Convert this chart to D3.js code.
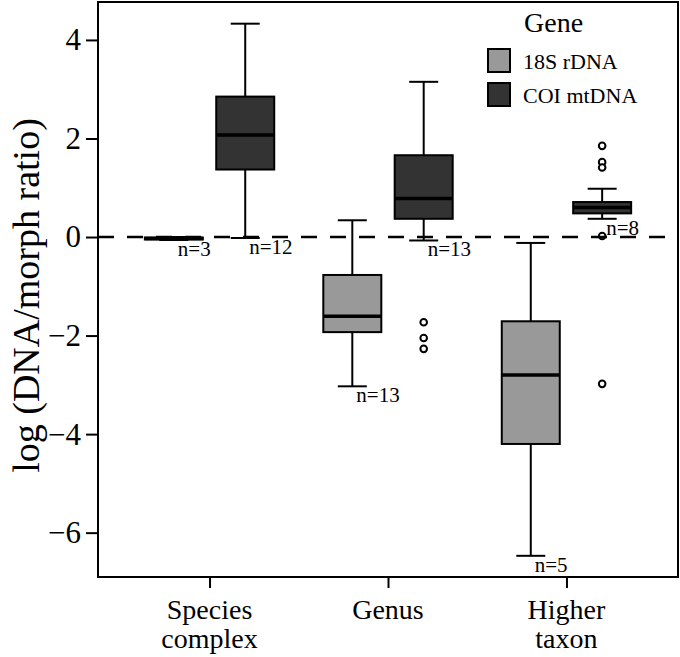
<!DOCTYPE html>
<html><head><meta charset="utf-8">
<script src="https://cdn.jsdelivr.net/npm/d3@7"></script>
<style>
body{margin:0;background:#fff}
svg{display:block}
</style>
</head><body>
<svg id="chart" width="680" height="657"></svg>
<script>
// ---- data ----
const categories = ["Species complex", "Genus", "Higher taxon"];
const categoryLines = [["Species", "complex"], ["Genus"], ["Higher", "taxon"]];
const genes = ["18S rDNA", "COI mtDNA"];
const geneColors = ["#999999", "#333333"];
const yTicks = [-6, -4, -2, 0, 2, 4];
const yLabel = "log (DNA/morph ratio)";
const legendTitle = "Gene";

// 18S rDNA, one value per category
const rDNA_low  = [-0.06, -3.03, -6.47];
const rDNA_q1   = [-0.05, -1.93, -4.20];
const rDNA_med  = [-0.03, -1.61, -2.80];
const rDNA_q3   = [-0.01, -0.77, -1.71];
const rDNA_high = [ 0.00,  0.34, -0.12];
const rDNA_n    = [3, 13, 5];
const rDNA_out  = [[], [], []];

// COI mtDNA, one value per category
const coi_low  = [-0.02, -0.07, 0.37];
const coi_q1   = [ 1.37,  0.37, 0.48];
const coi_med  = [ 2.07,  0.78, 0.60];
const coi_q3   = [ 2.85,  1.66, 0.71];
const coi_high = [ 4.33,  3.15, 0.98];
const coi_n    = [12, 13, 8];
const coi_out  = [[], [-1.73, -2.05, -2.27], [1.85, 1.52, 1.41, 0.02, -2.98]];

// ---- build table ----
const seriesStats = [
  {low: rDNA_low, q1: rDNA_q1, med: rDNA_med, q3: rDNA_q3, high: rDNA_high, n: rDNA_n, out: rDNA_out},
  {low: coi_low, q1: coi_q1, med: coi_med, q3: coi_q3, high: coi_high, n: coi_n, out: coi_out}
];
const boxes = [];
categories.forEach((c, ci) => {
  genes.forEach((g, gi) => {
    const s = seriesStats[gi];
    boxes.push({cat: c, gene: g, gi, low: s.low[ci], q1: s.q1[ci], med: s.med[ci],
                q3: s.q3[ci], high: s.high[ci], n: s.n[ci], out: s.out[ci]});
  });
});

// ---- layout ----
const FONT = "'Liberation Serif', 'Times New Roman', Times, serif";
const svg = d3.select("#chart");
const L = 98, R = 678, T = 2, B = 577;

const x = d3.scalePoint().domain(categories).range([L, R]).padding(0.625);
const step = x.step();
const xg = d3.scaleBand().domain(genes).range([-0.4 * step, 0.4 * step]);
const boxW = 0.325 * step;
const capW = boxW / 2;
const y = d3.scaleLinear().domain([-6.9, 4.77]).range([B, T]);
const color = d3.scaleOrdinal().domain(genes).range(geneColors);

const cx = d => x(d.cat) + xg(d.gene) + xg.bandwidth() / 2;

// boxes
const g = svg.append("g");
const bx = g.selectAll("g.box").data(boxes).join("g").attr("class", "box");

bx.append("line").attr("x1", cx).attr("x2", cx)
  .attr("y1", d => y(d.q3)).attr("y2", d => y(d.high))
  .attr("stroke", "#000").attr("stroke-width", 2);
bx.append("line").attr("x1", cx).attr("x2", cx)
  .attr("y1", d => y(d.q1)).attr("y2", d => y(d.low))
  .attr("stroke", "#000").attr("stroke-width", 2);
bx.append("line").attr("x1", d => cx(d) - capW / 2).attr("x2", d => cx(d) + capW / 2)
  .attr("y1", d => y(d.high)).attr("y2", d => y(d.high))
  .attr("stroke", "#000").attr("stroke-width", 2);
bx.append("line").attr("x1", d => cx(d) - capW / 2).attr("x2", d => cx(d) + capW / 2)
  .attr("y1", d => y(d.low)).attr("y2", d => y(d.low))
  .attr("stroke", "#000").attr("stroke-width", 2);
bx.append("rect").attr("x", d => cx(d) - boxW / 2).attr("width", boxW)
  .attr("y", d => y(d.q3)).attr("height", d => Math.max(0.5, y(d.q1) - y(d.q3)))
  .attr("fill", d => color(d.gene)).attr("stroke", "#000").attr("stroke-width", 2);
bx.append("line").attr("x1", d => cx(d) - boxW / 2).attr("x2", d => cx(d) + boxW / 2)
  .attr("y1", d => y(d.med)).attr("y2", d => y(d.med))
  .attr("stroke", "#000").attr("stroke-width", 3.5);
bx.selectAll("circle").data(d => d.out.map(v => ({v, d}))).join("circle")
  .attr("cx", o => cx(o.d)).attr("cy", o => y(o.v)).attr("r", 3.3)
  .attr("fill", "#fff").attr("stroke", "#000").attr("stroke-width", 2);

// zero reference line
svg.append("line").attr("x1", L).attr("x2", R).attr("y1", y(0)).attr("y2", y(0))
  .attr("stroke", "#000").attr("stroke-width", 2.5).attr("stroke-dasharray", "16,13");

// n labels
svg.selectAll("text.nlab").data(boxes).join("text").attr("class", "nlab")
  .attr("x", d => cx(d) + 4).attr("y", d => y(d.low) + 16)
  .style("font-family", FONT).style("font-size", "21px").attr("fill", "#000")
  .text(d => "n=" + d.n);

// frame
svg.append("rect").attr("x", L).attr("y", T).attr("width", R - L).attr("height", B - T)
  .attr("fill", "none").attr("stroke", "#000").attr("stroke-width", 2);

// y axis
const ya = svg.append("g").attr("transform", `translate(${L},0)`)
  .call(d3.axisLeft(y).tickValues(yTicks).tickSize(12).tickPadding(5));
ya.select(".domain").remove();
ya.selectAll(".tick line").attr("stroke", "#000").attr("stroke-width", 2);
ya.selectAll(".tick text").style("font-family", FONT).style("font-size", "31px").attr("fill", "#000");

// x axis
const xa = svg.append("g").attr("transform", `translate(0,${B})`)
  .call(d3.axisBottom(x).tickSize(11).tickFormat(""));
xa.select(".domain").remove();
xa.selectAll(".tick line").attr("stroke", "#000").attr("stroke-width", 2);
svg.selectAll("text.xlab").data(categories).join("text").attr("class", "xlab")
  .attr("text-anchor", "middle").style("font-family", FONT).style("font-size", "28px").attr("fill", "#000")
  .each(function(d, i) {
    d3.select(this).selectAll("tspan").data(categoryLines[i]).join("tspan")
      .attr("x", x(d)).attr("y", (t, j) => B + 42 + j * 29).text(t => t);
  });

// y label
svg.append("text").attr("transform", `translate(39,${(T + B) / 2 + 6}) rotate(-90)`)
  .attr("text-anchor", "middle").style("font-family", FONT).style("font-size", "38px").attr("fill", "#000")
  .text(yLabel);

// legend
const lg = svg.append("g");
lg.append("text").attr("x", 524).attr("y", 32).style("font-family", FONT).style("font-size", "28px")
  .attr("fill", "#000").text(legendTitle);
const li = lg.selectAll("g.li").data(genes).join("g").attr("class", "li")
  .attr("transform", (d, i) => `translate(488,${49 + i * 34})`);
li.append("rect").attr("width", 22).attr("height", 23)
  .attr("fill", d => color(d)).attr("stroke", "#000").attr("stroke-width", 2);
li.append("text").attr("x", 35).attr("y", 20).style("font-family", FONT).style("font-size", "22px")
  .attr("fill", "#000").text(d => d);
</script>
</body></html>
